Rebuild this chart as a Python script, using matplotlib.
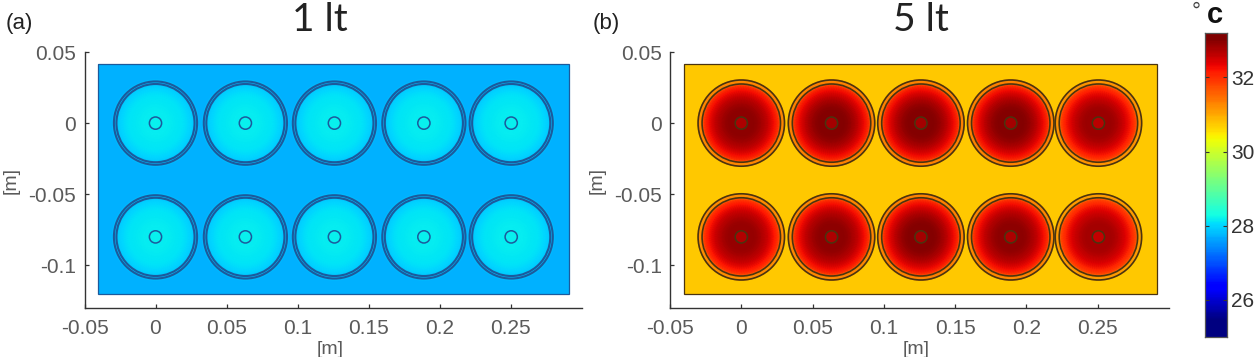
import numpy as np
import matplotlib
matplotlib.use('Agg')
import matplotlib.pyplot as plt
from matplotlib.colors import Normalize
from matplotlib.patches import Circle, Rectangle

plt.rcParams['font.family'] = ['Liberation Sans', 'DejaVu Sans']

#cylinder layout [m]
cylX = [0, 0.0633, 0.126, 0.189, 0.2505]
cylY = [0, -0.08]
plateX = [-0.0405, 0.2915]
plateY = [-0.1205, 0.0415]
ringsA = [0.0275, 0.0293]
ringsB = [0.0275, 0.0303]
coreRadius = 0.0043

#temperature along the cylinder radius [C]
profileR = [0, 0.004, 0.0045, 0.009, 0.014, 0.019, 0.023, 0.0265, 0.0275, 0.0305]
profileA = [28.2, 28.2, 28.17, 28.17, 28.15, 28.1, 28.03, 27.93, 27.85, 27.78]
profileB = [32.8, 32.8, 33.0, 33.0, 32.85, 32.6, 32.3, 31.95, 31.4, 31.2]

#plate temperature and per-cylinder shift, one row per cylinder row
plateA = 27.73
plateB = 30.75
shiftA = [[0, 0, 0, 0, 0], [0, 0, 0, 0, 0]]
shiftB = [[-0.05, 0, 0, 0, -0.15], [-0.1, -0.05, 0, -0.05, -0.2]]

xTicks = [-0.05, 0, 0.05, 0.1, 0.15, 0.2, 0.25]
xTickLabels = ['-0.05', '0', '0.05', '0.1', '0.15', '0.2', '0.25']
yTicks = [-0.1, -0.05, 0, 0.05]
yTickLabels = ['-0.1', '-0.05', '0', '0.05']
cbarTicks = [26, 28, 30, 32]
cbarRange = [25, 33.2]
tempRange = [25.45, 33.05]

W, H = 1260, 357
greyText = '#5a5a5a'
norm = Normalize(tempRange[0], tempRange[1])

def pixAxes(fig, left, top, right, bottom):
    return fig.add_axes([left/W, 1-bottom/H, (right-left)/W, (bottom-top)/H])

def drawPanel(ax, profile, plateT, shift, rings, lineCol, ringWidth):
    ax.pcolormesh(plateX, plateY, [[plateT]], cmap='jet', norm=norm, zorder=1)
    ax.add_patch(Rectangle((plateX[0], plateY[0]), plateX[1]-plateX[0], plateY[1]-plateY[0],
                           fill=False, ec=lineCol, lw=0.9, zorder=4))
    theta = np.linspace(0, 2*np.pi, 91)
    for row, yc in enumerate(cylY):
        for col, xc in enumerate(cylX):
            rr, tt = np.meshgrid(profileR, theta)
            temps = np.broadcast_to(np.array(profile) + shift[row][col], rr.shape)
            ax.pcolormesh(xc + rr*np.cos(tt), yc + rr*np.sin(tt), temps, cmap='jet', norm=norm,
                          shading='gouraud', zorder=2)
            for r in rings:
                ax.add_patch(Circle((xc, yc), r, fill=False, ec=lineCol, lw=ringWidth, zorder=3))
            ax.add_patch(Circle((xc, yc), coreRadius, fill=False, ec=lineCol, lw=1.1, zorder=3))

    ax.set_xlim(-0.05, 0.30)
    ax.set_ylim(-0.13, 0.05)
    ax.spines['top'].set_visible(False)
    ax.spines['right'].set_visible(False)
    for s in ['left', 'bottom']:
        ax.spines[s].set_color('#333333')
        ax.spines[s].set_linewidth(1.0)
    ax.set_xticks(xTicks)
    ax.set_xticklabels(xTickLabels)
    ax.set_yticks(yTicks)
    ax.set_yticklabels(yTickLabels)
    ax.tick_params(direction='in', length=3, width=0.9, color='#333333', labelsize=15,
                   labelcolor=greyText)
    ax.tick_params(axis='x', pad=8)
    ax.tick_params(axis='y', pad=6)

fig = plt.figure(figsize=(W/100, H/100), dpi=100)

axA = pixAxes(fig, 84.5, 52, 581.5, 308)
drawPanel(axA, profileA, plateA, shiftA, ringsA, '#1c5a9c', 1.5)
axB = pixAxes(fig, 670, 52, 1169, 308)
drawPanel(axB, profileB, plateB, shiftB, ringsB, '#4a3410', 1.2)

#panel letters, titles and axis names
fig.text(19/W, 1-23/H, '(a)', fontsize=16, color='#222222', ha='center', va='center')
fig.text(606/W, 1-23/H, '(b)', fontsize=16, color='#222222', ha='center', va='center')
for xp, txt in [(320, '1 lt'), (921, '5 lt')]:
    fig.text(xp/W, 1-20/H, txt, fontsize=28, family='Lato', color='#222222', ha='center', va='center')
for xp in [330, 916]:
    fig.text(xp/W, 1-350/H, '[m]', fontsize=14, color=greyText, ha='center', va='center')
for xp in [11, 597]:
    fig.text(xp/W, 1-181/H, '[m]', fontsize=14, color=greyText, rotation=90, ha='center', va='center')

#colour scale, clipped to the end colours past the mapped range
cax = pixAxes(fig, 1205, 33, 1227, 337)
levels = np.linspace(cbarRange[0], cbarRange[1], 257)
cax.pcolormesh([0, 1], levels, ((levels[:-1] + levels[1:])/2)[:, None], cmap='jet', norm=norm)
cax.set_xlim(0, 1)
cax.set_ylim(cbarRange[0], cbarRange[1])
cax.set_xticks([])
cax.set_yticks(cbarTicks)
cax.yaxis.tick_right()
for s in cax.spines.values():
    s.set_color('#555555')
    s.set_linewidth(0.9)
cax.tick_params(direction='in', left=True, right=True, length=3, width=0.8, color='#333333',
                labelsize=15, labelcolor='#333333', pad=3)
fig.text(1196/W, 1-12/H, '°', fontsize=16, color='#444444', ha='center', va='center')
fig.text(1215/W, 1-15/H, 'c', fontsize=21, color='#111111', weight='bold', ha='center', va='center')

fig.savefig('out.png', dpi=100)
